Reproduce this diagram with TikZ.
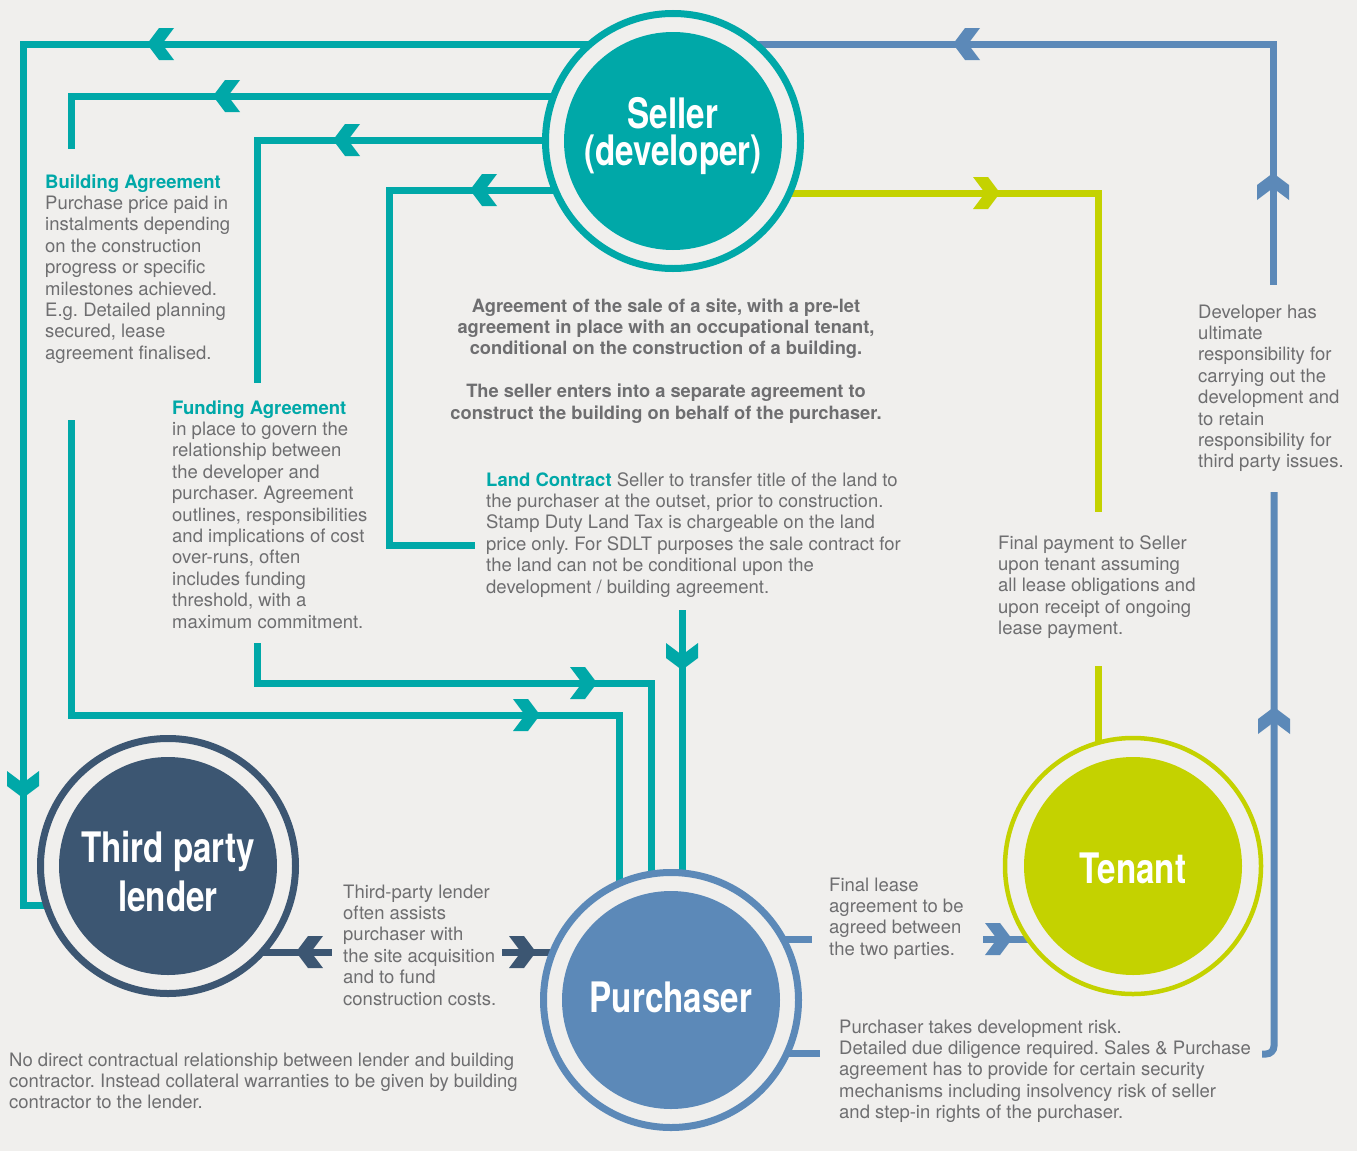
\documentclass[tikz,border=0pt]{standalone}
\usepackage{fontspec}
\setmainfont{TeX Gyre Heros}
\newfontfamily\condfont[FakeStretch=0.79]{TeX Gyre Heros}
\definecolor{bgc}{RGB}{240,239,237}
\definecolor{tealc}{RGB}{0,168,168}
\definecolor{bluec}{RGB}{92,137,184}
\definecolor{navyc}{RGB}{60,86,114}
\definecolor{limec}{RGB}{196,210,0}
\definecolor{txtc}{RGB}{110,110,112}
\pgfdeclarelayer{back}
\pgfdeclarelayer{lines}
\pgfsetlayers{back,lines,main}
\tikzset{
 party/.style={circle, inner sep=0pt, minimum size=255pt, line width=7pt, draw=#1, fill=bgc,
   path picture={\fill[#1] (path picture bounding box.center) circle (109pt);}},
 ptitle/.style={text=white, align=center, font=\condfont\bfseries\fontsize{42}{#1}\selectfont, anchor=center, inner sep=0pt},
 ptitle/.default=42,
 conn/.style={line width=7pt, draw=#1, line join=miter},
 body/.style={text=txtc, font=\frenchspacing\fontsize{18.5}{21.4}\selectfont, anchor=base west, inner sep=0pt},
 bodyc/.style={text=txtc, font=\frenchspacing\bfseries\fontsize{18.3}{21.4}\selectfont, anchor=base, inner sep=0pt},
 chev/.pic={\fill[#1] (0,0) -- (-12,-16) -- (-27,-16) -- (-15,0) -- (-27,16) -- (-12,16) -- cycle;},
}
\newcommand{\hd}[1]{{\bfseries\color{tealc}#1}}
\newcommand{\lblock}[1]{\begin{tabular}[t]{@{}l@{}}#1\end{tabular}}
\newcommand{\cblock}[1]{\begin{tabular}[t]{@{}c@{}}#1\end{tabular}}
\begin{document}
\begin{tikzpicture}[x=1pt,y=-1pt]
\useasboundingbox (0,0) rectangle (1357,1151);
\begin{pgfonlayer}{back}
\fill[bgc] (0,0) rectangle (1357,1151);
\end{pgfonlayer}

% parties
\node[party=tealc] (seller) at (673,141) {};
\node[party=navyc] (lender) at (168,866) {};
\node[party=bluec] (purch) at (671,1000) {};
\node[party=limec, line width=4.5pt, minimum size=256pt] (tenant) at (1133,866) {};

\node[ptitle=37] (sellerT) at (673,136) {Seller\\(developer)};
\node[ptitle=49] (lenderT) at (168,872) {Third party\\lender};
\node[ptitle, anchor=base] (purchT) at (671,1012) {Purchaser};
\node[ptitle, anchor=base] (tenantT) at (1133,883) {Tenant};

% coordinates
\coordinate (a1) at (23,44);   \coordinate (a2) at (23,905);
\coordinate (b1) at (71,96);   \coordinate (b2) at (71,149);
\coordinate (c1) at (257,140); \coordinate (c2) at (257,383);
\coordinate (d1) at (389,190); \coordinate (d2) at (389,545); \coordinate (d3) at (475,545);
\coordinate (e1) at (71,420);  \coordinate (e2) at (71,715);  \coordinate (e3) at (619,715);
\coordinate (f1) at (257,643); \coordinate (f2) at (257,683); \coordinate (f3) at (651,683);
\coordinate (g1) at (682,610);
\coordinate (h1) at (1273,44); \coordinate (h2) at (1273,285);
\coordinate (i1) at (1274,492); \coordinate (i2) at (1274,1054); \coordinate (i3) at (1262,1054);
\coordinate (j1) at (812,939); \coordinate (k1) at (983,939); \coordinate (m1) at (820,1053);
\coordinate (n1) at (1098,193); \coordinate (n2) at (1098,512); \coordinate (n3) at (1098,666);
\coordinate (p1) at (332,952); \coordinate (p2) at (502,952);

\begin{pgfonlayer}{lines}
% teal connectors
\draw[conn=tealc] (seller.center |- a1) -- (a1) -- (a2) -- (lender.center |- a2);
\draw[conn=tealc] (seller.center |- b1) -- (b1) -- (b2);
\draw[conn=tealc] (seller.center |- c1) -- (c1) -- (c2);
\draw[conn=tealc] (seller.center |- d1) -- (d1) -- (d2) -- (d3);
\draw[conn=tealc] (e1) -- (e2) -- (e3) -- (e3 |- purch.center);
\draw[conn=tealc] (f1) -- (f2) -- (f3) -- (f3 |- purch.center);
\draw[conn=tealc] (g1) -- (g1 |- purch.center);
% blue connectors
\draw[conn=bluec] (seller.center |- h1) -- (h1) -- (h2);
\draw[conn=bluec, rounded corners=8pt] (i1) -- (i2) -- (i3);
\draw[conn=bluec] (purch.center |- j1) -- (j1);
\draw[conn=bluec] (k1) -- (tenant.center |- k1);
\draw[conn=bluec] (purch.center |- m1) -- (m1);
% lime connectors
\draw[conn=limec] (seller.center |- n1) -- (n1) -- (n2);
\draw[conn=limec] (n3) -- (n3 |- tenant.center);
% navy connectors
\draw[conn=navyc] (lender.center |- p1) -- (p1);
\draw[conn=navyc] (p2) -- (p2 -| purch.center);

% arrowheads
\pic[rotate=180] at (147,44) {chev=tealc};
\pic[rotate=180] at (213,96) {chev=tealc};
\pic[rotate=180] at (333,140) {chev=tealc};
\pic[rotate=180] at (470,190) {chev=tealc};
\pic[rotate=-90] at (23,798) {chev=tealc};
\pic at (540,715) {chev=tealc};
\pic at (597,683) {chev=tealc};
\pic[rotate=-90] at (682,670) {chev=tealc};
\pic[rotate=180] at (953,44) {chev=bluec};
\pic[rotate=90] at (1273,173) {chev=bluec};
\pic[rotate=90] at (1274,707) {chev=bluec};
\pic at (1012,939) {chev=bluec};
\pic at (1000,193) {chev=limec};
\pic[rotate=180] at (296,952) {chev=navyc};
\pic at (536,952) {chev=navyc};
\end{pgfonlayer}

% texts
\node[body] (t1) at (45,188) {\lblock{\hd{Building Agreement}\\
Purchase price paid in\\ instalments depending\\ on the construction\\ progress or specific\\
milestones achieved.\\ E.g. Detailed planning\\ secured, lease\\ agreement finalised.}};
\node[body] (t2) at (172,414) {\lblock{\hd{Funding Agreement}\\
in place to govern the\\ relationship between\\ the developer and\\ purchaser. Agreement\\
outlines, responsibilities\\ and implications of cost\\ over-runs, often\\ includes funding\\
threshold, with a\\ maximum commitment.}};
\node[bodyc] (t3) at (666,312) {\cblock{Agreement of the sale of a site, with a pre-let\\
agreement in place with an occupational tenant,\\ conditional on the construction of a building.\\ \\
The seller enters into a separate agreement to\\ construct the building on behalf of the purchaser.}};
\node[body] (t4) at (486,486) {\lblock{\hd{Land Contract} Seller to transfer title of the land to\\
the purchaser at the outset, prior to construction.\\ Stamp Duty Land Tax is chargeable on the land\\
price only. For SDLT purposes the sale contract for\\ the land can not be conditional upon the\\
development / building agreement.}};
\node[body] (t5) at (1198,318) {\lblock{Developer has\\ ultimate\\ responsibility for\\ carrying out the\\
development and\\ to retain\\ responsibility for\\ third party issues.}};
\node[body] (t6) at (998,549) {\lblock{Final payment to Seller\\ upon tenant assuming\\ all lease obligations and\\
upon receipt of ongoing\\ lease payment.}};
\node[body] (t7) at (829,891) {\lblock{Final lease\\ agreement to be\\ agreed between\\ the two parties.}};
\node[body] (t8) at (343,898) {\lblock{Third-party lender\\ often assists\\ purchaser with\\ the site acquisition\\
and to fund\\ construction costs.}};
\node[body] (t9) at (9,1066) {\lblock{No direct contractual relationship between lender and building\\
contractor. Instead collateral warranties to be given by building\\ contractor to the lender.}};
\node[body] (t10) at (839,1033) {\lblock{Purchaser takes development risk.\\
Detailed due diligence required. Sales \& Purchase\\ agreement has to provide for certain security\\
mechanisms including insolvency risk of seller\\ and step-in rights of the purchaser.}};
\end{tikzpicture}
\end{document}
